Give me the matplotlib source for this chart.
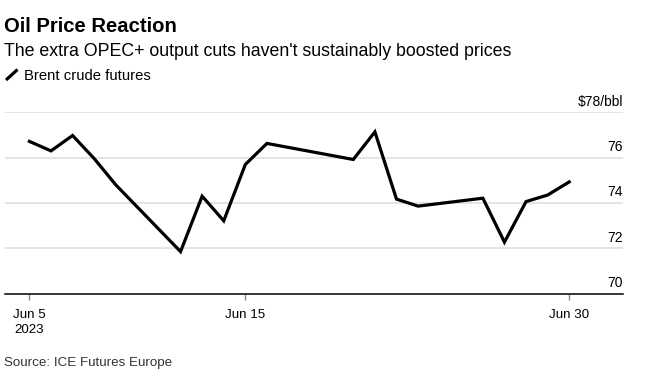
import matplotlib
matplotlib.use("Agg")
import matplotlib.pyplot as plt
from matplotlib.lines import Line2D
from matplotlib.transforms import blended_transform_factory, offset_copy
import pandas as pd

plt.rcParams['font.family'] = ['Liberation Sans', 'DejaVu Sans']

# Brent crude futures, June 2023
dates = pd.to_datetime([
    "2023-06-05", "2023-06-06", "2023-06-07", "2023-06-08", "2023-06-09",
    "2023-06-12", "2023-06-13", "2023-06-14", "2023-06-15", "2023-06-16",
    "2023-06-20", "2023-06-21", "2023-06-22", "2023-06-23",
    "2023-06-26", "2023-06-27", "2023-06-28", "2023-06-29", "2023-06-30",
])
brent = [76.72, 76.30, 76.98, 75.96, 74.80,
         71.85, 74.30, 73.21, 75.70, 76.63,
         75.92, 77.14, 74.17, 73.86,
         74.21, 72.27, 74.06, 74.35, 74.93]

x_tick_dates = pd.to_datetime(["2023-06-05", "2023-06-15", "2023-06-30"])
x_tick_labels = ["Jun 5\n2023", "Jun 15", "Jun 30"]
y_ticks = [70, 72, 74, 76, 78]
y_tick_labels = ["70", "72", "74", "76", "$78/bbl"]

fig = plt.figure(figsize=(6.48, 3.76), dpi=100)
ax = fig.add_axes([5 / 648, 1 - 293.5 / 376, 618 / 648, 181.1 / 376])

ax.plot(dates, brent, color='black', lw=2.3, solid_joinstyle='miter')

ax.set_ylim(70, 78)
ax.set_xlim(dates[0] - pd.Timedelta(days=1.13), dates[-1] + pd.Timedelta(days=2.49))

# gridlines + right-side labels sitting on top of them
for v in y_ticks[1:]:
    ax.axhline(v, color='#dcdcdc', lw=1.1, zorder=0)
trans = offset_copy(blended_transform_factory(ax.transAxes, ax.transData),
                    fig=fig, x=0, y=6.5, units='dots')
for v, lab in zip(y_ticks, y_tick_labels):
    ax.text(1.0, v, lab, transform=trans, ha='right', va='baseline',
            fontsize=10, color='black')

ax.set_yticks([])
ax.set_xticks(x_tick_dates)
ax.set_xticklabels(x_tick_labels, fontsize=9.6, linespacing=1.36)
ax.tick_params(axis='x', length=4, width=1, color='#888888', pad=7)

for s in ['top', 'right', 'left']:
    ax.spines[s].set_visible(False)
ax.spines['bottom'].set_color('black')
ax.spines['bottom'].set_linewidth(1.1)

# header
fig.text(4 / 648, 1 - 32.3 / 376, "Oil Price Reaction", fontsize=14.6,
         fontweight='bold', va='baseline', ha='left')
fig.text(4 / 648, 1 - 55.7 / 376,
         "The extra OPEC+ output cuts haven't sustainably boosted prices",
         fontsize=12.8, va='baseline', ha='left')
fig.add_artist(Line2D([6 / 648, 17.5 / 648], [1 - 80 / 376, 1 - 69.5 / 376],
                      transform=fig.transFigure, color='black', lw=2.3,
                      solid_capstyle='butt'))
fig.text(24 / 648, 1 - 80 / 376, "Brent crude futures", fontsize=10.7,
         va='baseline', ha='left')
fig.text(4 / 648, 1 - 366 / 376, "Source: ICE Futures Europe", fontsize=9.6,
         va='baseline', ha='left', color='#333333')

fig.savefig("out.png", dpi=100)
